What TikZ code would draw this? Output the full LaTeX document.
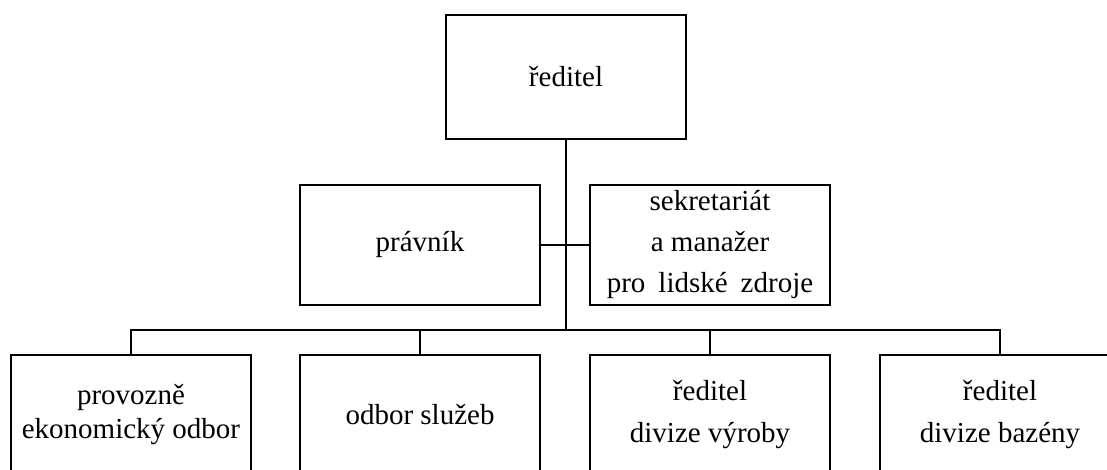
\documentclass[tikz,border=0pt]{standalone}
\usepackage{fontspec}
\setmainfont{Liberation Serif}
\tikzset{
    x={1pt},
    y={-1pt},
    unit box/.style={
        draw=black,
        line width={2pt},
        align=center,
        font={\fontsize{29}{34}\selectfont},
        minimum width={240},
        minimum height={120},
        inner sep=2pt,
        outer sep=0pt,
    },
    head box/.style={
        unit box,
        minimum height={124},
    },
    link/.style={
        draw=black,
        line width={2.2pt},
    },
}

\begin{document}
\begin{tikzpicture}
\useasboundingbox (0,0) rectangle (1107,470);
\clip (0,0) rectangle (1107,470);
% boxes
\node[head box] (reditel) at (566,77) {ředitel};
\node[unit box] (pravnik) at (420,245) {právník};
\node[unit box] (sekretariat) at (710,245) {sekretariát\\[7pt]a manažer\\[7pt]{\spaceskip=13pt pro lidské zdroje}};
\node[unit box] (eko) at (131,415) {provozně\\ekonomický odbor};
\node[unit box] (sluzby) at (420,415) {odbor služeb};
\node[unit box] (vyroba) at (710,415) {ředitel\\[8pt]divize výroby};
\node[unit box] (bazeny) at (1000,415) {ředitel\\[8pt]divize bazény};
% connectors
\coordinate (bus) at (566,330);
\path[link] (reditel) -- (bus);
\path[link] (pravnik.east) -- (sekretariat.west);
\path[link] (eko.north) |- (bus) -| (bazeny.north);
\path[link] (sluzby.north) -- (sluzby.north |- bus);
\path[link] (vyroba.north) -- (vyroba.north |- bus);
\end{tikzpicture}
\end{document}
